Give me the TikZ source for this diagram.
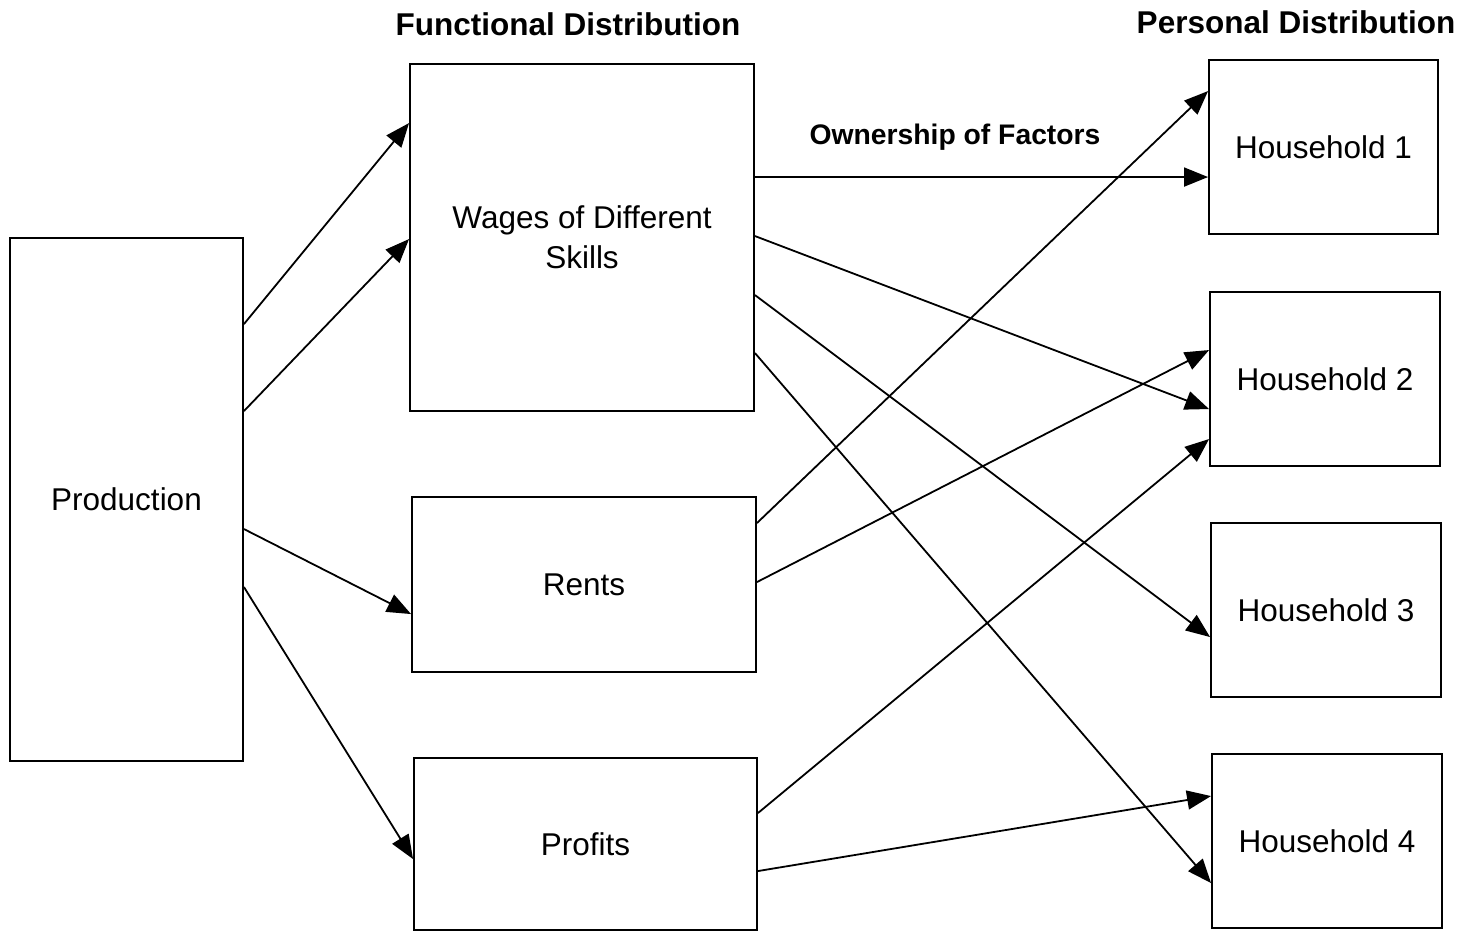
\documentclass[tikz,border=0pt]{standalone}
\usepackage{fontspec}
\setmainfont{Liberation Sans}
\usetikzlibrary{arrows.meta}
\begin{document}
\begin{tikzpicture}[x=1pt,y=-1pt,
  box/.style={draw, line width=1.9pt, inner sep=0pt, align=center, font=\fontsize{31.5}{40}\selectfont},
  flow/.style={line width=1.8pt, -{Triangle[length=24pt,width=19pt]}},
  head/.style={font=\bfseries\fontsize{31.5}{37}\selectfont}]
\useasboundingbox (0,0) rectangle (1466,931);
\fill[white] (0,0) rectangle (1466,931);
\node[box, minimum width=233pt, minimum height=523pt] (prod) at (126.5,499.5) {Production};
\node[box, minimum width=344pt, minimum height=347pt] (wages) at (582,237.5) {Wages of Different\\Skills};
\node[box, minimum width=344pt, minimum height=175pt] (rents) at (584,584.5) {Rents};
\node[box, minimum width=343pt, minimum height=172pt] (profits) at (585.5,844) {Profits};
\node[box, minimum width=229pt, minimum height=174pt] (h1) at (1323.5,147) {Household 1};
\node[box, minimum width=230pt, minimum height=174pt] (h2) at (1325,379) {Household 2};
\node[box, minimum width=230pt, minimum height=174pt] (h3) at (1326,610) {Household 3};
\node[box, minimum width=230pt, minimum height=174pt] (h4) at (1327,841) {Household 4};
\node[head] (fd) at (568,24) {Functional Distribution};
\node[head] (pd) at (1296,22) {Personal Distribution};
\node[head, font=\bfseries\fontsize{28.3}{33}\selectfont] (of) at (955,137) {Ownership of Factors};
% production to functional
\draw[flow] ([yshift=-87pt]prod.north east) -- ([yshift=-60pt]wages.north west);
\draw[flow] ([yshift=-174pt]prod.north east) -- ([yshift=-176pt]wages.north west);
\draw[flow] ([yshift=-292pt]prod.north east) -- ([yshift=-118pt]rents.north west);
\draw[flow] ([yshift=-350pt]prod.north east) -- ([yshift=-102pt]profits.north west);
% wages to households
\draw[flow] ([yshift=-114pt]wages.north east) -- ([yshift=-118pt]h1.north west);
\draw[flow] ([yshift=-173pt]wages.north east) -- ([yshift=-118pt]h2.north west);
\draw[flow] ([yshift=-232pt]wages.north east) -- ([yshift=-115pt]h3.north west);
\draw[flow] ([yshift=-290pt]wages.north east) -- ([yshift=-130pt]h4.north west);
% rents to households
\draw[flow] ([yshift=-27pt]rents.north east) -- ([yshift=-32pt]h1.north west);
\draw[flow] ([yshift=-86pt]rents.north east) -- ([yshift=-59pt]h2.north west);
% profits to households
\draw[flow] ([yshift=-56pt]profits.north east) -- ([yshift=-148pt]h2.north west);
\draw[flow] ([yshift=-114pt]profits.north east) -- ([yshift=-43pt]h4.north west);
\end{tikzpicture}
\end{document}
